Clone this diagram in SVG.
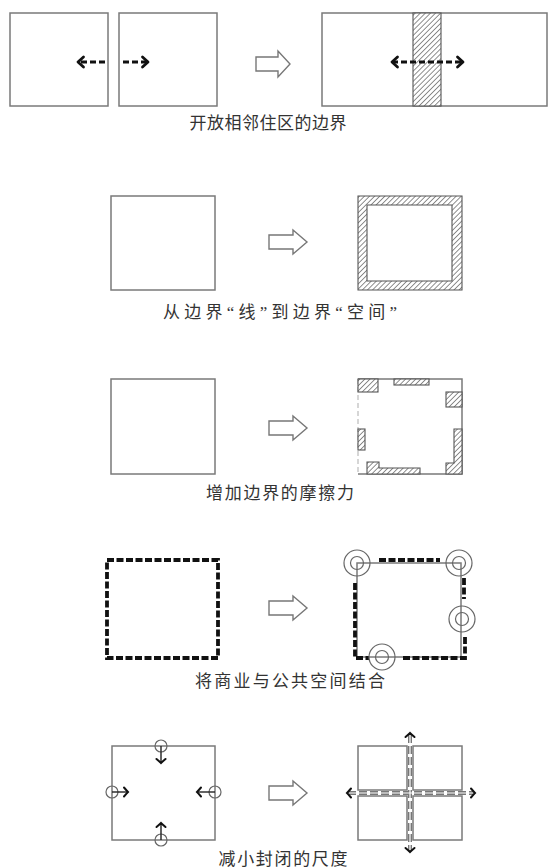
<svg xmlns="http://www.w3.org/2000/svg" width="550" height="868" viewBox="0 0 550 868">
<style>
.box{fill:none;stroke:#7a7a7a;stroke-width:1.5}
.harrow{fill:#fff;stroke:#777;stroke-width:1.4;stroke-linejoin:miter}
.hatch{fill:url(#hatch);stroke:#555;stroke-width:1.1}
.darr{fill:none;stroke:#111;stroke-width:3;stroke-dasharray:6 3}
.thickdash{fill:none;stroke:#111;stroke-width:3.8;stroke-dasharray:7 2.5}
.ring{fill:none;stroke:#666;stroke-width:1.2}
.stem{fill:none;stroke:#222;stroke-width:1.4}
.street{fill:none;stroke:#777;stroke-width:4;stroke-dasharray:8 3}
.streetc{fill:none;stroke:#fff;stroke-width:1.2}
.cap{font-family:"Liberation Serif","Noto Sans CJK SC",serif;font-size:17px;fill:#333;text-anchor:middle}
</style>
<defs>
<pattern id="hatch" patternUnits="userSpaceOnUse" width="3.6" height="3.6" patternTransform="rotate(45)">
<rect width="3.6" height="3.6" fill="#fff"/>
<line x1="0" y1="0" x2="0" y2="3.6" stroke="#444" stroke-width="1.2"/>
</pattern>
<marker id="chev" markerUnits="userSpaceOnUse" viewBox="-8 -7 10 14" refX="0" refY="0" markerWidth="10" markerHeight="14" orient="auto-start-reverse">
<path d="M-5.5,-5 L0,0 L-5.5,5" fill="none" stroke="#111" stroke-width="2.8" stroke-dasharray="none" stroke-linecap="round" stroke-linejoin="round"/>
</marker>
<marker id="chevs" markerUnits="userSpaceOnUse" viewBox="-8 -6 10 12" refX="0" refY="0" markerWidth="10" markerHeight="12" orient="auto-start-reverse">
<path d="M-4,-4.5 Q-1,-1 0,0 Q-1,1 -4,4.5" fill="none" stroke="#111" stroke-width="2" stroke-dasharray="none" stroke-linecap="round"/>
</marker>
<path id="bigarrow" d="M0,-7 H24 V-12 L38,0 L24,12 V7 H0 Z"/>
</defs>

<!-- Row 1 -->
<g id="row1-left">
<rect class="box" x="10" y="13" width="98" height="93"/>
<rect class="box" x="119" y="13" width="98" height="93"/>
</g>
<g id="row1-transform">
<path class="harrow" d="M256,57 H278 V51 L290,64 L278,77 V71 H256 Z"/>
</g>
<g id="row1-right">
<rect class="box" x="322" y="13" width="225" height="93"/>
<rect class="hatch" x="413" y="13" width="28" height="93"/>
</g>
<g id="row1-caption"><text class="cap" x="268" y="129" textLength="157" lengthAdjust="spacing">开放相邻住区的边界</text></g>

<!-- Row 2 -->
<g id="row2-left"><rect class="box" x="111" y="196" width="104" height="94"/></g>
<g id="row2-transform"><use href="#bigarrow" class="harrow" transform="translate(269,242)"/></g>
<g id="row2-right">
<path class="hatch" fill-rule="evenodd" d="M358,196 H462 V290 H358 Z M367,205 V281 H452 V205 Z"/>
</g>
<g id="row2-caption"><text class="cap" x="280" y="318" textLength="234" lengthAdjust="spacing">从边界“线”到边界“空间”</text></g>

<!-- Row 3 -->
<g id="row3-left"><rect class="box" x="111" y="379" width="104" height="95"/></g>
<g id="row3-transform"><use href="#bigarrow" class="harrow" transform="translate(269,428)"/></g>
<g id="row3-right">
<path class="box" d="M358,379 H462 V474 H358"/>
<line x1="358" y1="379" x2="358" y2="474" stroke="#bbb" stroke-width="1.2" stroke-dasharray="5 3"/>
<rect class="hatch" x="358" y="379" width="20" height="13"/>
<rect class="hatch" x="394" y="379" width="35" height="6"/>
<rect class="hatch" x="446" y="392" width="16" height="15"/>
<rect class="hatch" x="358" y="429" width="7" height="21"/>
<path class="hatch" d="M454,429 H462 V474 H446 V463 H454 Z"/>
<path class="hatch" d="M367,462 H379 V468 H420 V474 H367 Z"/>
</g>
<g id="row3-caption"><text class="cap" x="280" y="499" textLength="148" lengthAdjust="spacing">增加边界的摩擦力</text></g>

<!-- Row 4 -->
<g id="row4-left"><rect class="thickdash" x="107" y="560" width="111" height="98"/></g>
<g id="row4-transform"><use href="#bigarrow" class="harrow" transform="translate(269,608)"/></g>
<g id="row4-right">
<rect class="box" x="357" y="563" width="104" height="94" stroke-width="1.2"/>
<line class="thickdash" x1="379" y1="560" x2="440" y2="560"/>
<path class="thickdash" d="M355,583 V658 H369"/>
<path class="thickdash" d="M403,658 H465 V635"/>
<line class="thickdash" x1="464" y1="578" x2="464" y2="599"/>
<circle class="ring" cx="357" cy="563" r="13"/><circle class="ring" cx="357" cy="563" r="6.5"/>
<circle class="ring" cx="459" cy="563" r="13"/><circle class="ring" cx="459" cy="563" r="6.5"/>
<circle class="ring" cx="462" cy="619" r="13"/><circle class="ring" cx="462" cy="619" r="6.5"/>
<circle class="ring" cx="382" cy="657" r="13"/><circle class="ring" cx="382" cy="657" r="6.5"/>
</g>
<g id="row4-caption"><text class="cap" x="290" y="687" textLength="190" lengthAdjust="spacing">将商业与公共空间结合</text></g>

<!-- Row 5 -->
<g id="row5-left">
<rect class="box" x="112" y="746" width="103" height="94"/>
<circle class="ring" cx="161" cy="746" r="6"/>
<circle class="ring" cx="112" cy="792" r="6"/>
<circle class="ring" cx="215" cy="792" r="6"/>
<circle class="ring" cx="161" cy="840" r="6"/>
</g>
<g id="row5-transform"><use href="#bigarrow" class="harrow" transform="translate(269,793)"/></g>
<g id="row5-right">
<rect class="box" x="358" y="746" width="49" height="44"/>
<rect class="box" x="413" y="746" width="49" height="44"/>
<rect class="box" x="358" y="796" width="49" height="44"/>
<rect class="box" x="413" y="796" width="49" height="44"/>
</g>
<g id="connectors">
<line class="darr" x1="105" y1="62" x2="78" y2="62" marker-end="url(#chev)"/>
<line class="darr" x1="123" y1="62" x2="148" y2="62" marker-end="url(#chev)"/>
<line class="darr" x1="392" y1="62" x2="463" y2="62" marker-start="url(#chev)" marker-end="url(#chev)"/>
<line class="stem" x1="161" y1="746" x2="161" y2="763" marker-end="url(#chevs)"/>
<line class="stem" x1="112" y1="792" x2="128" y2="792" marker-end="url(#chevs)"/>
<line class="stem" x1="215" y1="792" x2="197" y2="792" marker-end="url(#chevs)"/>
<line class="stem" x1="161" y1="840" x2="161" y2="823" marker-end="url(#chevs)"/>
<line class="street" x1="410" y1="735" x2="410" y2="851"/>
<line class="street" x1="348" y1="793" x2="474" y2="793"/>
<line class="streetc" x1="410" y1="735" x2="410" y2="851"/>
<line class="streetc" x1="348" y1="793" x2="474" y2="793"/>
<line x1="410" y1="736" x2="410" y2="733" stroke="none" marker-end="url(#chevs)"/>
<line x1="410" y1="849" x2="410" y2="852" stroke="none" marker-end="url(#chevs)"/>
<line x1="350" y1="793" x2="347" y2="793" stroke="none" marker-end="url(#chevs)"/>
<line x1="472" y1="793" x2="475" y2="793" stroke="none" marker-end="url(#chevs)"/>
</g>
<g id="row5-caption"><text class="cap" x="283" y="865" textLength="129" lengthAdjust="spacing">减小封闭的尺度</text></g>
</svg>
